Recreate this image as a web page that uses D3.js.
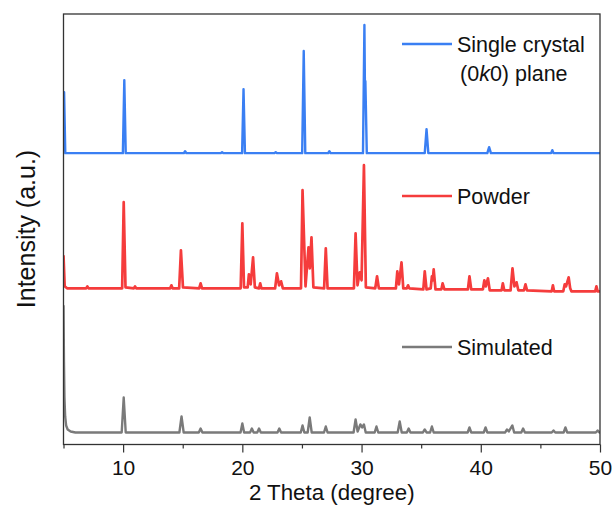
<!DOCTYPE html>
<html>
<head>
<meta charset="utf-8">
<script src="https://cdn.jsdelivr.net/npm/d3@7"></script>
<style>
  body { margin: 0; background: #fff; }
  text { font-family: "Liberation Sans", Arial, sans-serif; fill: #111; }
</style>
</head>
<body>
<div id="chart"></div>
<script>
// [2theta, intensity above own baseline]
var crystalPts = [
  [5.0, 20], [5.05, 61], [5.15, 0],
  [9.98, 0], [10.1, 73], [10.22, 0],
  [15.1, 0], [15.2, 2], [15.3, 0],
  [18.2, 0], [18.3, 1], [18.4, 0],
  [19.98, 0], [20.1, 64], [20.22, 0],
  [22.7, 0], [22.8, 1], [22.9, 0],
  [25.02, 0], [25.15, 102], [25.28, 0],
  [27.2, 0], [27.3, 2], [27.4, 0],
  [30.12, 0], [30.24, 128], [30.29, 55], [30.32, 72], [30.44, 0],
  [35.3, 0], [35.45, 24], [35.6, 0],
  [40.55, 0], [40.7, 6], [40.85, 0],
  [45.9, 0], [46.0, 3], [46.1, 0],
  [50, 0]
];
var powderPts = [
  [5.0, 33], [5.1, 2], [5.3, 0],
  [6.9, 0], [7.0, 2], [7.1, 0],
  [9.92, 0], [10.05, 86], [10.2, 1],
  [10.9, 0], [11.0, 2], [11.1, 0],
  [13.95, 0], [14.05, 3], [14.15, 0],
  [14.7, 0], [14.85, 38], [15.02, 1],
  [16.38, 0], [16.5, 5], [16.62, 0],
  [19.86, 0], [20.0, 65], [20.14, 1],
  [20.45, 1], [20.55, 14], [20.7, 4], [20.9, 31], [21.05, 1],
  [21.4, 0], [21.5, 5], [21.6, 0],
  [22.75, 0], [22.9, 15], [23.08, 3], [23.25, 7], [23.4, 0],
  [24.92, 0], [25.05, 98], [25.3, 2], [25.55, 41], [25.66, 20], [25.8, 51], [25.96, 1],
  [26.86, 0], [27.0, 40], [27.15, 0],
  [29.36, 0], [29.5, 55], [29.66, 3], [29.85, 16], [30.0, 8], [30.2, 123], [30.36, 1],
  [31.15, 0], [31.3, 12], [31.45, 0],
  [32.88, 0], [33.0, 17], [33.14, 4], [33.35, 26], [33.5, 0],
  [33.8, 0], [33.9, 3], [34.0, 0],
  [35.18, -1], [35.3, 17], [35.45, -1], [35.8, 0], [35.9, 12], [35.97, 8], [36.05, 19], [36.2, -1],
  [36.7, -1], [36.8, 5], [36.95, -1],
  [38.92, -1], [39.05, 12], [39.2, -1],
  [40.18, -1], [40.3, 8], [40.42, 2], [40.6, 10], [40.75, -2],
  [41.75, -2], [41.85, 5], [41.97, -2],
  [42.5, -2], [42.66, 20], [42.82, 2], [43.0, 6], [43.15, -2],
  [43.62, -2], [43.75, 4], [43.88, -2],
  [45.95, -3], [46.05, 3], [46.15, -3],
  [46.92, -3], [47.04, 4], [47.15, 2], [47.37, 11], [47.5, 0], [47.6, -3],
  [49.6, -3], [49.7, 2], [49.8, -3], [50, -3]
];
var simPts = [
  [5.0, 127], [5.04, 70], [5.08, 35], [5.14, 16], [5.22, 7], [5.35, 3], [5.6, 1], [6.0, 0],
  [9.88, 0], [10.05, 35], [10.22, 0],
  [14.72, 0], [14.9, 16], [15.08, 0],
  [16.35, 0], [16.5, 4], [16.65, 0],
  [19.85, 0], [20.0, 9], [20.15, 0],
  [20.65, 0], [20.8, 4], [20.95, 0],
  [21.25, 0], [21.4, 4], [21.55, 0],
  [22.95, 0], [23.1, 4], [23.25, 0],
  [24.9, 0], [25.05, 7], [25.2, 0], [25.48, 0], [25.65, 15], [25.82, 0],
  [26.85, 0], [27.0, 6], [27.15, 0],
  [29.33, 0], [29.5, 13], [29.67, 1], [29.9, 8], [30.05, 5], [30.2, 8], [30.35, 0],
  [31.1, 0], [31.25, 6], [31.4, 0],
  [33.03, 0], [33.2, 11], [33.37, 0],
  [33.8, 0], [33.95, 4], [34.1, 0],
  [35.15, 0], [35.3, 3], [35.45, 0], [35.75, 0], [35.9, 6], [36.05, 0],
  [38.9, 0], [39.05, 5], [39.2, 0],
  [40.25, 0], [40.4, 5], [40.55, 0],
  [42.05, 0], [42.2, 3], [42.35, 1], [42.65, 7], [42.8, 0],
  [43.4, 0], [43.55, 4], [43.7, 0],
  [45.95, 0], [46.1, 2], [46.25, 0],
  [46.95, 0], [47.1, 5], [47.25, 0],
  [49.65, 0], [49.8, 2], [49.95, 0], [50, 0]
];
var seriesNames = ["Simulated", "Powder", "Single crystal"];
var seriesOffsets = [12, 156, 291];
var majorTicks = [10, 20, 30, 40, 50];
var minorTicks = [5, 15, 25, 35, 45];

var width = 616, height = 508;
var margin = {top: 14, right: 16, bottom: 63.5, left: 63.5};

var svg = d3.select("#chart").append("svg").attr("width", width).attr("height", height);

var x = d3.scaleLinear().domain([5, 50]).range([margin.left, width - margin.right]);
var y = d3.scaleLinear().domain([0, 430]).range([height - margin.bottom, margin.top]);

svg.append("clipPath").attr("id", "clip").append("rect")
  .attr("x", margin.left).attr("y", margin.top)
  .attr("width", width - margin.right - margin.left).attr("height", height - margin.bottom - margin.top);

var colors = ["#7a7a7a", "#f53c3c", "#3a7ff3"];
var widths = [2.4, 2.7, 2.4];
var sets = [simPts, powderPts, crystalPts];

sets.forEach(function(pts, i) {
  var line = d3.line()
    .x(function(d) { return x(d[0]); })
    .y(function(d) { return y(d[1] + seriesOffsets[i]); });
  svg.append("path").datum(pts)
    .attr("clip-path", "url(#clip)")
    .attr("d", line)
    .attr("fill", "none")
    .attr("stroke", colors[i])
    .attr("stroke-width", widths[i])
    .attr("stroke-linejoin", "round");
});

// frame
svg.append("rect")
  .attr("x", margin.left).attr("y", margin.top)
  .attr("width", width - margin.right - margin.left).attr("height", height - margin.bottom - margin.top)
  .attr("fill", "none").attr("stroke", "#333").attr("stroke-width", 1.3);

var gx = svg.append("g").attr("transform", "translate(0," + (height - margin.bottom) + ")")
  .call(d3.axisBottom(x).tickValues(majorTicks).tickSize(8).tickPadding(8));
gx.select(".domain").remove();
gx.selectAll(".tick line").attr("stroke", "#333").attr("stroke-width", 1.2);
gx.selectAll(".tick text").style("font-size", "21px").style("font-family", "Liberation Sans, Arial, sans-serif").attr("fill", "#111");

var gm = svg.append("g").attr("transform", "translate(0," + (height - margin.bottom) + ")")
  .call(d3.axisBottom(x).tickValues(minorTicks).tickSize(4).tickFormat(""));
gm.select(".domain").remove();
gm.selectAll(".tick line").attr("stroke", "#333").attr("stroke-width", 1.2);

svg.append("text").attr("x", (margin.left + width - margin.right) / 2).attr("y", 500)
  .attr("text-anchor", "middle").style("font-size", "22.3px").text("2 Theta (degree)");

svg.append("text").attr("transform", "translate(35,229) rotate(-90)")
  .attr("text-anchor", "middle").style("font-size", "25px").text("Intensity (a.u.)");

// legend
var legendY = [347, 196, 44];
legendY.forEach(function(ly, i) {
  svg.append("line").attr("x1", 402).attr("x2", 452).attr("y1", ly).attr("y2", ly)
    .attr("stroke", colors[i]).attr("stroke-width", 2.4);
  svg.append("text").attr("x", 457).attr("y", ly).attr("dy", "0.36em")
    .style("font-size", "21.5px").text(seriesNames[i]);
});
var sub = svg.append("text").attr("x", 460).attr("y", 73).attr("dy", "0.36em").style("font-size", "21.5px");
sub.append("tspan").text("(0");
sub.append("tspan").style("font-style", "italic").text("k");
sub.append("tspan").text("0) plane");
</script>
</body>
</html>
